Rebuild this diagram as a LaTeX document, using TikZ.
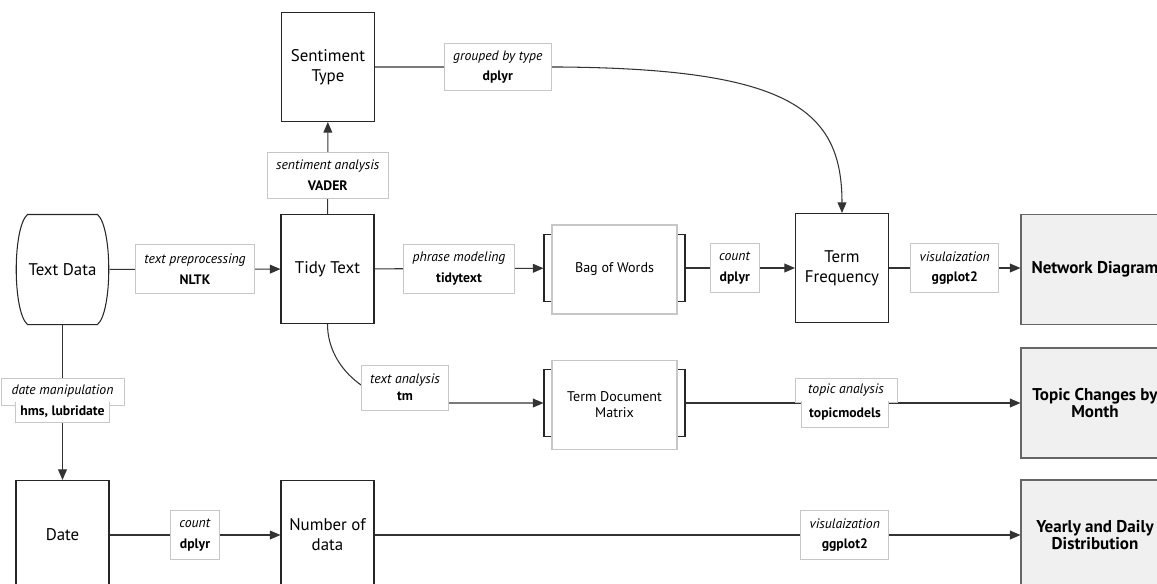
\documentclass[tikz,border=0pt]{standalone}
\usepackage{fontspec}
\setmainfont{PT Sans}
\usetikzlibrary{arrows.meta}

\begin{document}
\begin{tikzpicture}[
  x=0.02cm, y=-0.02cm,
  >={Triangle[length=6pt,width=5pt]},
  box/.style={draw=black!85,line width=.6pt,fill=white,minimum width=1.86cm,minimum height=2.18cm,align=center,inner sep=2pt,font=\fontsize{9.6}{11.4}\selectfont},
  terminal/.style={box,draw=none,fill=none},
  result/.style={box,draw=black!60,fill=black!6,minimum width=2.96cm,minimum height=2.2cm,font=\fontsize{9.7}{9.8}\selectfont\bfseries},
  procback/.style={draw=black!85,line width=.6pt,minimum width=2.82cm,minimum height=1.34cm},
  proc/.style={draw=black!22,line width=.6pt,fill=white,minimum width=2.5cm,minimum height=1.78cm,align=center,font=\fontsize{8}{9.2}\selectfont},
  lbl/.style={draw=black!22,line width=.5pt,fill=white,align=center,inner xsep=5pt,minimum height=.98cm,font=\fontsize{7.8}{11.7}\selectfont},
  lbltop/.style={draw=black!22,line width=.5pt,fill=white,inner sep=1pt,font=\fontsize{7.8}{9}\selectfont\itshape},
  lblbot/.style={fill=white,inner sep=1pt,font=\fontsize{7.8}{9}\selectfont\bfseries},
  edge/.style={draw=black!22,line width=.5pt},
  outline/.style={draw=black!85,line width=.6pt},
  flow/.style={->,draw=black!80,line width=.6pt}
]
  \useasboundingbox (0,0) rectangle (1157,583);

  \node[terminal] (td) at (62.5,269.5) {Text Data};
  \draw[outline] ([xshift=.24cm]td.north west) -- ([xshift=-.24cm]td.north east)
    .. controls ([xshift=.06cm,yshift=-.26cm]td.north east) and ([xshift=.06cm,yshift=.26cm]td.south east) .. ([xshift=-.24cm]td.south east)
    -- ([xshift=.24cm]td.south west)
    .. controls ([xshift=-.06cm,yshift=.26cm]td.south west) and ([xshift=-.06cm,yshift=-.26cm]td.north west) .. cycle;
  \node[box] (tt) at (327.5,269) {Tidy Text};
  \node[box] (st) at (328,67) {Sentiment\\Type};
  \node[procback] (bow) at (614.5,268) {};
  \node[proc] (bowin) at (614.5,269.5) {Bag of Words};
  \node[procback] (tdm) at (614.5,403) {};
  \node[proc] (tdmin) at (614.5,405) {Term Document\\Matrix};
  \node[box] (tf) at (842,268) {Term\\Frequency};
  \node[result] (nwd) at (1095,269.5) {Network Diagram};
  \node[result] (tcm) at (1095,403) {Topic Changes by\\Month};
  \node[box] (dt) at (62.5,535) {Date};
  \node[box] (nd) at (327.5,535) {Number of\\data};
  \node[result] (yd) at (1095,535) {Yearly and Daily\\Distribution};

  \coordinate (gbt) at (561,67);
  \coordinate (ta) at (420,403);

  \draw[flow] (td) -- node[lbl] (l1) {\textit{text preprocessing}\\\textbf{NLTK}} (tt);
  \draw[flow] (tt) -- node[lbl,pos=.42,minimum height=.92cm] (l2) {\textit{sentiment analysis}\\\textbf{VADER}} (st);
  \draw[flow] (st) -- node[lbl,pos=.66,minimum height=.94cm] (l3) {\textit{grouped by type}\\\textbf{dplyr}} (gbt)
    .. controls (790,69) and (842,110) .. (tf.north);
  \draw[flow] (tt) -- node[lbl] (l4) {\textit{phrase modeling}\\\textbf{tidytext}} (bow);
  \draw[flow] (bow) -- node[lbl,pos=.45] (l5) {\textit{count}\\\textbf{dplyr}} (tf);
  \draw[flow] (tf) -- node[lbl] (l6) {\textit{visulaization}\\\textbf{ggplot2}} (nwd.west |- tf);
  \draw[flow] (tt.south) .. controls +(0,44) and +(-51,0) .. (ta) -- (tdm);
  \node[lbl,minimum height=.9cm,font=\fontsize{7.8}{9.6}\selectfont] (l7) at (405,387.5) {\textit{text analysis}\\\textbf{tm}};
  \draw[flow] (tdm) -- (tcm);
  \draw[flow] (td) -- (dt);
  \draw[flow] (dt) -- node[lbl] (l8) {\textit{count}\\\textbf{dplyr}} (nd);
  \draw[flow] (nd) -- node[lbl,pos=.728] (l9) {\textit{visulaization}\\\textbf{ggplot2}} (yd);

  \node[lbltop,minimum width=2.46cm,minimum height=.54cm] (dm) at (62.5,391.5) {date manipulation};
  \node[lblbot,minimum width=1.86cm,minimum height=.4cm] (hl) at (62.5,412) {hms, lubridate};
  \draw[edge] (hl.north west) -- (hl.south west) -- (hl.south east) -- (hl.north east);
  \node[lbltop,minimum width=2.04cm,minimum height=.48cm] (ta1) at (846,390) {topic analysis};
  \node[lblbot,minimum width=1.72cm,minimum height=.52cm] (tm1) at (845,414) {topicmodels};
  \draw[edge] (tm1.north west) -- (tm1.south west) -- (tm1.south east) -- (tm1.north east);
\end{tikzpicture}
\end{document}
